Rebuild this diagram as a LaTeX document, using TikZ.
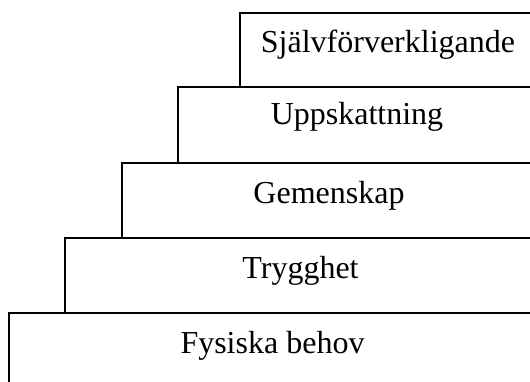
\documentclass[tikz,border=0pt]{standalone}
\usepackage{fontspec}
\setmainfont{Liberation Serif}
\usetikzlibrary{calc}
\begin{document}
\begin{tikzpicture}[x=1pt,y=-1pt,
  box/.style={draw=black,line width=1.5pt,fill=white,anchor=north west,inner sep=0pt,outer sep=0pt},
  lbl/.style={anchor=base,inner sep=0pt,font=\fontsize{32}{38}\selectfont}]
\useasboundingbox (0,0) rectangle (530,382);
\clip (0,0) rectangle (530,382);
\fill[white] (0,0) rectangle (530,382);
\node[box,minimum width=296pt,minimum height=74pt] (b1) at (240,13) {};
\node[box,minimum width=358pt,minimum height=76pt] (b2) at (178,87) {};
\node[box,minimum width=414pt,minimum height=75pt] (b3) at (122,163) {};
\node[box,minimum width=471pt,minimum height=75pt] (b4) at (65,238) {};
\node[box,minimum width=527pt,minimum height=80pt] (b5) at (9,313) {};
\node[lbl] (t1) at ($(b1.north)+(0,40)$) {Självförverkligande};
\node[lbl] (t2) at ($(b2.north)+(0,37.5)$) {Uppskattning};
\node[lbl] (t3) at ($(b3.north)+(0,40.5)$) {Gemenskap};
\node[lbl] (t4) at ($(b4.north)+(0,40.5)$) {Trygghet};
\node[lbl] (t5) at ($(b5.north)+(0,40.5)$) {Fysiska behov};
\end{tikzpicture}
\end{document}
